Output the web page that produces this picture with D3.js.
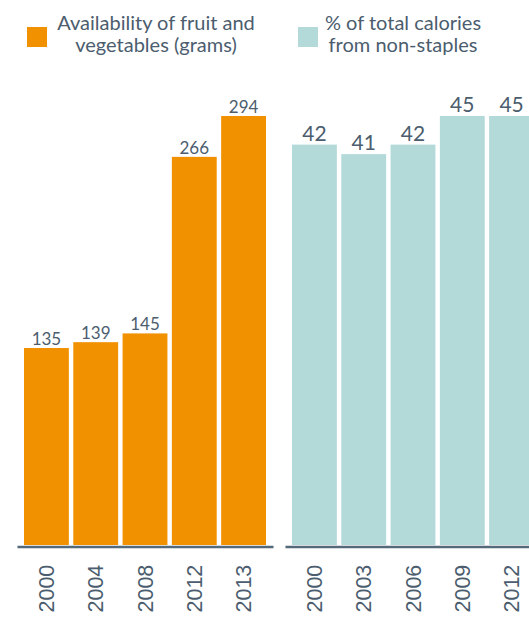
<!DOCTYPE html>
<html>
<head>
<meta charset="utf-8">
<script src="https://cdn.jsdelivr.net/npm/d3@7/dist/d3.min.js"></script>
<style>
  html, body { margin: 0; padding: 0; background: #fff; }
  svg { display: block; }
</style>
</head>
<body>
<svg id="chart" width="529" height="621"></svg>
<script>
// Fruit & vegetable availability (grams)
const produceYears = ["2000", "2004", "2008", "2012", "2013"];
const produceGrams = [135, 139, 145, 266, 294];

// Share of calories from non-staple foods (%)
const calorieYears = ["2000", "2003", "2006", "2009", "2012"];
const calorieShare = [42, 41, 42, 45, 45];

const legendLabels = [
  ["Availability of fruit and", "vegetables (grams)"],
  ["% of total calories", "from non-staples"]
];

const ORANGE = "#f29100";
const TEAL = "#b3d9d9";
const INK = "#4b5d6e";
const AXIS = "#54697a";

const svg = d3.select("#chart");
const baseY = 545;
const topY = 116;

function panel(x0, years, values, color, labelSize, labelGap) {
  const x = d3.scaleBand()
    .domain(years)
    .range([x0, x0 + 256])
    .paddingInner(0.09)
    .paddingOuter(0.142);
  const y = d3.scaleLinear()
    .domain([0, d3.max(values)])
    .range([baseY, topY]);

  const g = svg.append("g");
  const data = years.map((yr, i) => ({ yr, v: values[i] }));

  g.selectAll("rect")
    .data(data)
    .join("rect")
    .attr("x", d => x(d.yr))
    .attr("width", x.bandwidth())
    .attr("y", d => y(d.v))
    .attr("height", d => y(0) - y(d.v))
    .attr("fill", color);

  g.selectAll("text.val")
    .data(data)
    .join("text")
    .attr("class", "val")
    .attr("x", d => x(d.yr) + x.bandwidth() / 2)
    .attr("y", d => y(d.v) - labelGap)
    .attr("text-anchor", "middle")
    .attr("font-family", "Lato, 'Open Sans', sans-serif")
    .attr("font-size", labelSize)
    .attr("fill", INK)
    .text(d => d.v);

  const axis = g.append("g")
    .attr("transform", `translate(0,${baseY + 1.5})`)
    .call(d3.axisBottom(x).tickSize(0).tickSizeOuter(0));
  axis.select(".domain")
    .attr("stroke", AXIS)
    .attr("stroke-width", 2.6);
  axis.selectAll(".tick text")
    .attr("transform", "rotate(-90)")
    .attr("x", -66)
    .attr("y", 0)
    .attr("dy", "0.36em")
    .attr("text-anchor", "start")
    .attr("font-family", "'Liberation Sans', Arial, sans-serif")
    .attr("font-size", 21.5)
    .attr("fill", INK);
}

panel(17, produceYears, produceGrams, ORANGE, 17, 3);
panel(285, calorieYears, calorieShare, TEAL, 21, 4);

// Legend
const legend = [
  { sx: 27, tx: 156, color: ORANGE, lines: legendLabels[0] },
  { sx: 298, tx: 403, color: TEAL, lines: legendLabels[1] }
];
const lg = svg.append("g");
legend.forEach(item => {
  lg.append("rect")
    .attr("x", item.sx).attr("y", 27)
    .attr("width", 20).attr("height", 20)
    .attr("fill", item.color);
  const t = lg.append("text")
    .attr("text-anchor", "middle")
    .attr("font-family", "Lato, 'Open Sans', sans-serif")
    .attr("font-size", 20)
    .attr("fill", INK);
  item.lines.forEach((ln, i) => {
    t.append("tspan").attr("x", item.tx).attr("y", 30 + i * 22).text(ln);
  });
});
</script>
</body>
</html>
